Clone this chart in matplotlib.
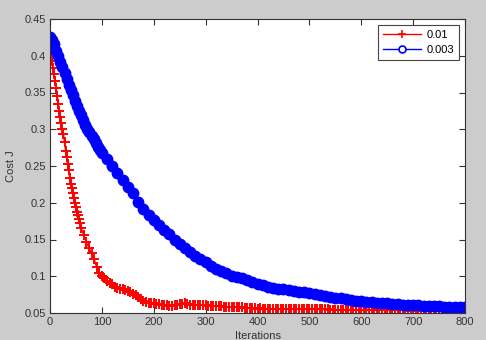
import numpy as np
import matplotlib
matplotlib.use("Agg")
import matplotlib.pyplot as plt
from matplotlib.lines import Line2D

plt.rcParams['font.family'] = ['Liberation Sans', 'DejaVu Sans']

# ---- data ----
labels = ["0.01", "0.003"]

red_iter = np.r_[np.arange(0, 61, 2), np.arange(65, 201, 5), np.arange(205, 801, 5)]
red_cost = [
    0.407, 0.401, 0.393, 0.384, 0.375, 0.366, 0.356, 0.345, 0.334, 0.325,
    0.316, 0.309, 0.301, 0.293, 0.282, 0.271, 0.262, 0.253, 0.244, 0.234,
    0.226, 0.220, 0.213, 0.206, 0.200, 0.194, 0.188, 0.183, 0.178, 0.172,
    0.166,
    0.156, 0.146, 0.139, 0.131, 0.124, 0.112, 0.105, 0.100, 0.097, 0.094,
    0.091, 0.089, 0.086, 0.084, 0.083, 0.082, 0.081, 0.080, 0.078, 0.076,
    0.074, 0.072, 0.069, 0.067, 0.065, 0.064, 0.064, 0.063,
    0.0625, 0.062, 0.0612, 0.061, 0.0605, 0.060, 0.0602, 0.0605, 0.0612, 0.062,
    0.0628, 0.063, 0.0622, 0.0615, 0.0612, 0.061, 0.0606, 0.0605, 0.0607, 0.0605,
    0.0602, 0.060, 0.0597, 0.0595, 0.0592, 0.059, 0.0588, 0.0585, 0.0587, 0.0585,
    0.0582, 0.058, 0.0577, 0.0575, 0.0572, 0.057, 0.0567, 0.0565, 0.0562, 0.056,
    0.0562, 0.056, 0.0558, 0.0558, 0.0556, 0.0556, 0.0557, 0.0558, 0.0556, 0.0555,
    0.0553, 0.0553, 0.0554, 0.0555, 0.0553, 0.0552, 0.0551, 0.055, 0.0551, 0.0552,
    0.0551, 0.055, 0.0549, 0.0548, 0.0549, 0.055, 0.0548, 0.0547, 0.0546, 0.0545,
    0.0546, 0.0547, 0.0546, 0.0545, 0.0544, 0.0543, 0.0544, 0.0545, 0.0543, 0.0542,
    0.0541, 0.054, 0.0541, 0.0542, 0.0541, 0.054, 0.0539, 0.0538, 0.0539, 0.054,
    0.0538, 0.0537, 0.0536, 0.0535, 0.0536, 0.0537, 0.0536, 0.0535, 0.0534, 0.0533,
    0.0534, 0.0535, 0.0533, 0.0532, 0.0531, 0.053, 0.0531, 0.0532, 0.0531, 0.053,
    0.0529, 0.0528, 0.0529, 0.053, 0.0529, 0.0528, 0.0527, 0.0527, 0.0527, 0.0527,
]

blue_iter = np.r_[np.arange(0, 101, 4), np.arange(110, 801, 10)]
blue_cost = [
    0.425, 0.422, 0.416, 0.407, 0.400, 0.392, 0.385, 0.377, 0.369, 0.360,
    0.353, 0.346, 0.339, 0.332, 0.325, 0.319, 0.313, 0.306, 0.301, 0.296,
    0.291, 0.287, 0.281, 0.276, 0.272, 0.268,
    0.260, 0.250, 0.240, 0.231, 0.222, 0.213, 0.201, 0.192, 0.184, 0.177,
    0.170, 0.163, 0.157, 0.150, 0.144, 0.139, 0.133, 0.128, 0.123, 0.119,
    0.114, 0.110, 0.107, 0.104, 0.101, 0.099, 0.097, 0.095, 0.092, 0.090,
    0.088, 0.086, 0.084, 0.083, 0.082, 0.081, 0.080, 0.079, 0.078, 0.077,
    0.0755, 0.0744, 0.073, 0.072, 0.071, 0.070, 0.069, 0.068, 0.067, 0.066,
    0.065, 0.0645, 0.064, 0.0635, 0.063, 0.0625, 0.062, 0.0615, 0.061, 0.061,
    0.0605, 0.060, 0.0598, 0.0595, 0.059, 0.0588, 0.0585, 0.0583, 0.058, 0.058,
]

xticks = [0, 100, 200, 300, 400, 500, 600, 700, 800]
yticks = [0.05, 0.1, 0.15, 0.2, 0.25, 0.3, 0.35, 0.4, 0.45]
ytick_labels = ["0.05", "0.1", "0.15", "0.2", "0.25", "0.3", "0.35", "0.4", "0.45"]

# ---- figure ----
fig = plt.figure(figsize=(4.86, 3.40), dpi=100, facecolor='#cccccc')
ax = fig.add_axes([50/486, 1 - 313/340, 415/486, 294/340])
ax.set_facecolor('white')

ax.plot(red_iter, red_cost, color='red', marker='+', ms=7, mew=1.4, lw=1)
ax.plot(blue_iter, blue_cost, color='blue', marker='o', ms=7, mfc='blue',
        mec='blue', mew=1.5, lw=1)

ax.set_xlim(0, 800)
ax.set_ylim(0.05, 0.45)
ax.set_xticks(xticks)
ax.set_xticklabels([str(t) for t in xticks])
ax.set_yticks(yticks)
ax.set_yticklabels(ytick_labels)
ax.tick_params(direction='in', top=True, right=True, labelsize=8,
               length=4, width=0.8, colors='#333333', pad=3)
for s in ax.spines.values():
    s.set_color('#333333')
    s.set_linewidth(0.8)

ax.set_xlabel("Iterations", fontsize=8, color='#333333', labelpad=3)
ax.set_ylabel("Cost J", fontsize=8, color='#333333', labelpad=6)

handles = [
    Line2D([], [], color='red', marker='+', ms=6, mew=1.2, lw=1),
    Line2D([], [], color='blue', marker='o', ms=5, mfc='white', mew=1.2, lw=1),
]
leg = ax.legend(handles, labels, loc='upper right', fontsize=8, frameon=True,
                fancybox=False, edgecolor='#444444', framealpha=1,
                handlelength=3.4, borderaxespad=0.5, labelspacing=0.5,
                handletextpad=0.5, borderpad=0.45)
leg.get_frame().set_linewidth(0.8)

fig.savefig("out.png", dpi=100, facecolor=fig.get_facecolor())
